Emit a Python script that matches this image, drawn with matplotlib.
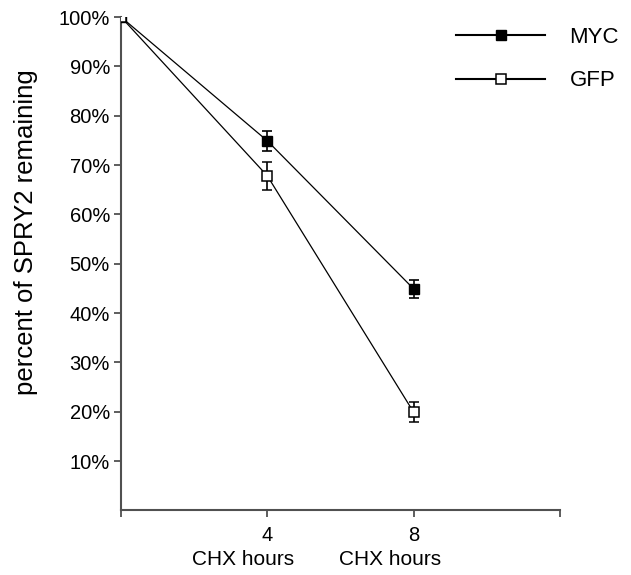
import numpy as np
import matplotlib.pyplot as plt
from matplotlib.ticker import FuncFormatter

plt.rcParams['font.family'] = ['Liberation Sans', 'DejaVu Sans']

hours = [0, 4, 8]
myc = [100, 74.9, 44.9]
myc_err = [0, 2.0, 1.9]
gfp = [100, 67.8, 19.9]
gfp_err = [0, 2.9, 2.0]
xtick_pos = [0, 4, 8, 12]
xtick_lab = ['', '4', '8', '']
yticks = [10, 20, 30, 40, 50, 60, 70, 80, 90, 100]

fig = plt.figure(figsize=(6.31, 5.75), dpi=100)
ax = fig.add_axes([0.1918, 0.1122, 0.6957, 0.8582])

ax.errorbar(hours, myc, yerr=myc_err, color='black', lw=0.9, marker='s', ms=6.5,
            mfc='black', mec='black', capsize=3.6, elinewidth=1.2, capthick=1.2,
            label='MYC', zorder=3)
ax.errorbar(hours, gfp, yerr=gfp_err, color='black', lw=0.9, marker='s', ms=6.5,
            mfc='white', mec='black', mew=1.1, capsize=3.6, elinewidth=1.2,
            capthick=1.2, label='GFP', zorder=4)

ax.set_xlim(0, 12)
ax.set_ylim(0, 100)
ax.set_xticks(xtick_pos)
ax.set_xticklabels(xtick_lab, fontsize=14.5)
ax.set_yticks(yticks)
ax.yaxis.set_major_formatter(FuncFormatter(lambda v, p: f'{v:.0f}%'))
ax.tick_params(axis='y', labelsize=14.5, length=5, width=1.3, color='#505050', pad=3)
ax.tick_params(axis='x', length=5, width=1.3, color='#505050', pad=6)

for s in ['top', 'right']:
    ax.spines[s].set_visible(False)
for s in ['left', 'bottom']:
    ax.spines[s].set_color('#505050')
    ax.spines[s].set_linewidth(1.5)

for xc in [3.33, 7.35]:
    ax.text(xc, -0.1, 'CHX hours', transform=ax.get_xaxis_transform(),
            ha='center', va='center', fontsize=15)

ax.set_ylabel('percent of SPRY2 remaining', fontsize=18.5)
ax.yaxis.set_label_coords(-0.188, 0.564)

h, l = ax.get_legend_handles_labels()
h = [hh[0] for hh in h]
leg = ax.legend(h, l, loc='upper right', bbox_to_anchor=(1.18, 1.02), frameon=False,
                fontsize=16, handlelength=4.0, handletextpad=1.1, labelspacing=1.0)
for line in leg.get_lines():
    line.set_linewidth(1.5)

fig.savefig('out.png', dpi=100)
